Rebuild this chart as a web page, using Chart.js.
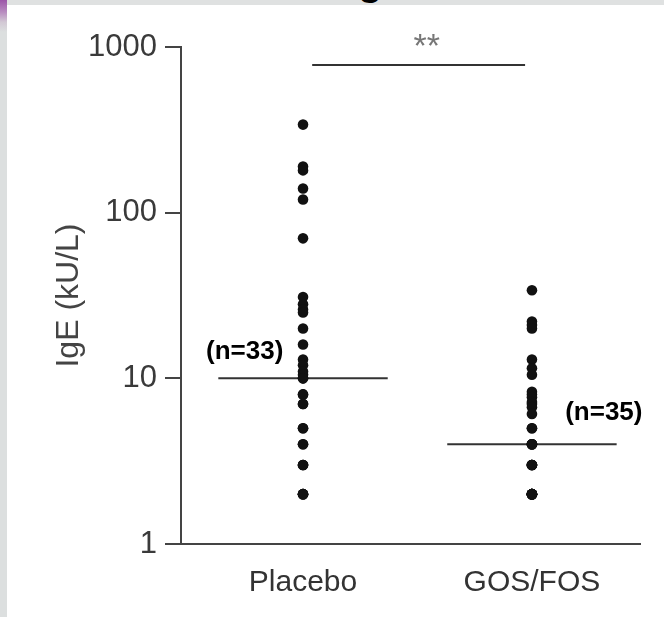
<!DOCTYPE html>
<html>
<head>
<meta charset="utf-8">
<title>IgE</title>
<script src="https://cdn.jsdelivr.net/npm/chart.js@4.4.0/dist/chart.umd.min.js"></script>
<style>
  html, body { margin: 0; padding: 0; background: #fff; }
  #wrap { position: relative; width: 664px; height: 617px; overflow: hidden; background: #fff; }
  #chart { position: absolute; left: 0; top: 0; }
  .strip-left { position: absolute; left: 0; top: 0; width: 7px; height: 617px;
    background: linear-gradient(#9c55a8 0px, #b88cc0 12px, #d2c8d4 22px, #dcdfdf 32px, #dcdfdf 100%); }
  .strip-top { position: absolute; left: 0; top: 0; width: 664px; height: 5px; background: #dfe1e1; }
  .cut-title { position: absolute; left: 358px; top: 0; width: 40px; height: 5px; overflow: hidden; }
  .cut-title span { position: absolute; left: 0; top: -39px; font: bold 40px "Liberation Sans", Arial, sans-serif;
    line-height: 40px; color: #000; }
</style>
</head>
<body>
<div id="wrap">
  <canvas id="chart" width="664" height="617"></canvas>
  <div class="strip-top"></div>
  <div class="strip-left"></div>
  <div class="cut-title"><span>g</span></div>
</div>
<script>
"use strict";

// ── Data ──
const CATEGORIES = ["Placebo", "GOS/FOS"];
const GROUP_N    = [33, 35];
const PLACEBO = [340, 190, 180, 140, 120, 70, 31, 28, 26, 25, 20, 16, 13, 12, 11, 10.5, 10, 10,
                 8, 8, 7, 7, 5, 5, 4, 4, 3, 3, 3, 2, 2, 2, 2];
const GOS_FOS = [34, 22, 21, 20, 13, 11.5, 10.5, 8.3, 8, 7.7, 7.2, 7, 6.7, 6.1, 5, 5, 4, 4, 4, 4, 4,
                 3, 3, 3, 3, 3, 2, 2, 2, 2, 2, 2, 2, 2, 2];
const MEDIANS  = [10, 4];
const Y_TICKS  = [1, 10, 100, 1000];
const SIG_TEXT = "**";

// ── Layout helpers (scale units, not data) ──
const FONT        = '"Liberation Sans", Arial, sans-serif';
const GROUP_X     = [0, 1];
const MEDIAN_HALF = 0.37;
const SIG_SPAN    = [0.04, 0.97];
const SIG_LEVEL   = 780;
const SIG_TEXT_AT = [0.54, 870];
const N_LABEL_AT  = [[-0.255, 14.4], [1.314, 6.2]];

const dotSet = (values, gx) => ({
  type: "scatter",
  data: values.map(v => ({ x: gx, y: v })),
  pointRadius: 5.3,
  pointBackgroundColor: "#111",
  pointBorderWidth: 0,
  order: 0
});

const lineSet = pts => ({
  type: "line",
  data: pts,
  borderColor: "#333",
  borderWidth: 2,
  pointRadius: 0,
  fill: false,
  order: 1
});

const medianSets = MEDIANS.map((m, i) =>
  lineSet([{ x: GROUP_X[i] - MEDIAN_HALF, y: m }, { x: GROUP_X[i] + MEDIAN_HALF, y: m }]));

const sigSet = lineSet([{ x: SIG_SPAN[0], y: SIG_LEVEL }, { x: SIG_SPAN[1], y: SIG_LEVEL }]);

const annotations = {
  id: "annotations",
  afterDatasetsDraw(chart) {
    const { ctx, scales: { x, y } } = chart;
    ctx.save();
    ctx.textAlign = "center";
    ctx.textBaseline = "middle";
    ctx.fillStyle = "#000";
    ctx.font = "bold 26px " + FONT;
    N_LABEL_AT.forEach((p, i) => {
      ctx.fillText("(n=" + GROUP_N[i] + ")", x.getPixelForValue(p[0]), y.getPixelForValue(p[1]));
    });
    ctx.textBaseline = "alphabetic";
    ctx.fillStyle = "#777";
    ctx.font = "34px " + FONT;
    ctx.fillText(SIG_TEXT, x.getPixelForValue(SIG_TEXT_AT[0]), y.getPixelForValue(SIG_TEXT_AT[1]));
    ctx.restore();
  }
};

new Chart(document.getElementById("chart").getContext("2d"), {
  type: "scatter",
  data: {
    datasets: [
      dotSet(PLACEBO, GROUP_X[0]),
      dotSet(GOS_FOS, GROUP_X[1]),
      ...medianSets,
      sigSet
    ]
  },
  options: {
    responsive: false,
    animation: false,
    layout: { padding: { top: 47, right: 24, left: 0, bottom: 0 } },
    plugins: { legend: { display: false }, tooltip: { enabled: false } },
    scales: {
      x: {
        type: "linear",
        min: -0.533,
        max: 1.472,
        afterBuildTicks: s => { s.ticks = GROUP_X.map(v => ({ value: v })); },
        ticks: {
          callback: (v, i) => CATEGORIES[i],
          font: { family: FONT, size: 30 },
          color: "#333",
          padding: 21,
          maxRotation: 0,
          autoSkip: false
        },
        grid: { display: false, drawTicks: false },
        border: { display: true, color: "#444", width: 2 },
        afterFit: s => { s.height = 73; }
      },
      y: {
        type: "logarithmic",
        min: 1,
        max: 1000,
        afterBuildTicks: s => { s.ticks = Y_TICKS.map(v => ({ value: v })); },
        ticks: {
          callback: v => String(v),
          font: { family: FONT, size: 31 },
          color: "#3a3a3a",
          padding: 8
        },
        grid: { drawOnChartArea: false, drawTicks: true, tickLength: 16, color: "#444", lineWidth: 2 },
        border: { display: true, color: "#444", width: 2 },
        title: {
          display: true,
          text: "IgE (kU/L)",
          font: { family: FONT, size: 32 },
          color: "#444",
          padding: { top: 50, bottom: 0 }
        },
        afterFit: s => { s.width = 181; }
      }
    }
  },
  plugins: [annotations]
});
</script>
</body>
</html>
